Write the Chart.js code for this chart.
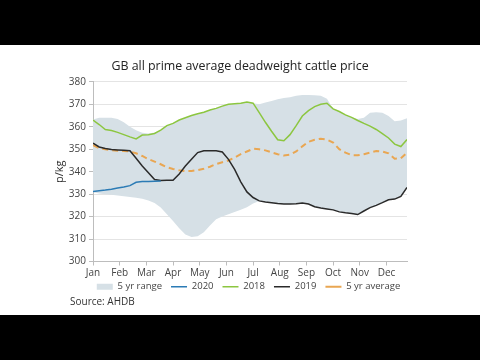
<!DOCTYPE html>
<html><head><meta charset="utf-8">
<script src="https://cdn.jsdelivr.net/npm/chart.js@4"></script>
<style>
html,body{margin:0;padding:0;background:#000;width:480px;height:360px;overflow:hidden}
#wrap{position:absolute;left:0;top:45px;width:480px;height:270px;background:#fff}
#c{display:block}
#src{position:absolute;left:70px;top:249px;font:10px "Open Sans",sans-serif;color:#333;line-height:14px}
</style></head><body>
<div id="wrap"><canvas id="c" width="480" height="270"></canvas><div id="src">Source: AHDB</div></div>
<script>
// Month tick labels
const monthLabels = ['Jan','Feb','Mar','Apr','May','Jun','Jul','Aug','Sep','Oct','Nov','Dec'];
// Weekly values (week 1 .. 52), p/kg
const rangeHigh = [363.3,364,364,364,363.5,362,360,358.5,357.3,357,357.5,358.5,360.5,361.5,363,364,365,365.8,366.5,367.5,368.2,369.2,370,370.3,370.5,371,370.5,370,370.8,371.5,372.3,372.8,373.2,373.8,374.2,374.2,374,373.8,372.5,368,366.8,365.3,364.2,363.5,364,366.2,366.5,366.2,364.8,362.5,362.8,363.8];
const rangeLow = [330.8,330.3,330,329.7,329.4,329.1,328.7,328.4,328,327.2,326,324.1,321,318,314.8,312,310.9,311.3,313,316,318.8,320,321,322,323,324.2,325.8,327,326.5,326.2,325.8,325.6,325.6,325.7,326,325.6,324.4,323.8,323.4,323,322.1,321.7,321.4,320.9,322.5,324,325,326.2,327.5,327.8,329,333];
const price2020 = [331.2,331.5,331.8,332.2,332.7,333.2,333.8,335.3,335.6,335.6,335.7,335.8];
const price2018 = [363,361,358.8,358.3,357.5,356.5,355.5,354.6,356.3,356.5,357,358.5,360.5,361.5,363,364,365,365.8,366.5,367.5,368.2,369.2,370,370.3,370.5,371,370.5,366.3,362,358,354.2,353.8,356.5,360.5,364.8,367.2,369,370,370.5,368,366.8,365.3,364.2,362.8,361.5,360.3,358.8,357,355,352.3,351.2,354.3];
const price2019 = [352.7,351,350.3,349.9,349.7,349.5,349.3,346,342.5,339.5,336.5,336.1,336.2,336.2,339,342.5,345.5,348.5,349.3,349.3,349.3,348.8,345.5,341,335.5,331,328.5,327,326.5,326.2,325.8,325.6,325.6,325.7,326,325.6,324.4,323.8,323.4,323,322.1,321.7,321.4,320.9,322.5,324,325,326.2,327.5,327.8,329,333];
const avg5yr = [351.8,350.5,350,349.6,349.3,349.2,349,348.2,347,345.6,344.5,343.3,342,341.2,340.6,340.3,340.3,340.7,341.3,342.2,343.4,344.2,345,346.3,347.8,349,350.2,350,349.5,348.6,347.8,347.2,347.6,349,351.3,353.3,354.2,354.7,354.3,353,350,348.5,347.4,347.3,347.8,348.5,349.2,349,348.2,345.8,346,348.5];
const yTicks = [300,310,320,330,340,350,360,370,380];

const pts = arr => arr.map((v,i)=>({x:i,y:v}));
const FONT = '"Open Sans", sans-serif';

const placePlugin = {
  id:'place',
  afterLayout(chart){
    const t = chart.titleBlock;
    if (t){ const d = 240 - (t.left+t.right)/2; t.left+=d; t.right+=d; }
    const l = chart.legend;
    if (l){
      const d = 248.5 - (l.left+l.right)/2; l.left+=d; l.right+=d;
      const h = l.bottom - l.top; l.top = 228; l.bottom = 228+h;
    }
  }
};

new Chart(document.getElementById('c'), {
  type:'line',
  data:{datasets:[
    {label:'5 yr range', data:pts(rangeHigh), fill:5, backgroundColor:'#d6e0e6', borderColor:'rgba(0,0,0,0)', borderWidth:0, pointRadius:0, pointStyle:'rect', order:10},
    {label:'2020', data:pts(price2020), borderColor:'#2b7bb5', backgroundColor:'#2b7bb5', borderWidth:1.5, pointRadius:0, pointStyle:'line', fill:false},
    {label:'2018', data:pts(price2018), borderColor:'#8cc640', backgroundColor:'#8cc640', borderWidth:1.5, pointRadius:0, pointStyle:'line', fill:false},
    {label:'2019', data:pts(price2019), borderColor:'#2a2a2a', backgroundColor:'#2a2a2a', borderWidth:1.5, pointRadius:0, pointStyle:'line', fill:false},
    {label:'5 yr average', data:pts(avg5yr), borderColor:'#e9a652', backgroundColor:'#e9a652', borderWidth:2, borderDash:[6,4], pointRadius:0, pointStyle:'line', fill:false},
    {label:'low', data:pts(rangeLow), borderWidth:0, borderColor:'rgba(0,0,0,0)', pointRadius:0, fill:false, order:11}
  ]},
  options:{
    responsive:false, animation:false, devicePixelRatio:1,
    layout:{padding:{left:0,right:73,top:0,bottom:5}},
    plugins:{
      tooltip:{enabled:false},
      title:{display:true, text:'GB all prime average deadweight cattle price', color:'#222', font:{family:FONT,size:12.4,weight:'normal'}, padding:{top:14,bottom:8}},
      legend:{position:'bottom', labels:{
        filter:(item)=>item.datasetIndex!==5,
        sort:(a,b)=>a.datasetIndex-b.datasetIndex,
        usePointStyle:true, pointStyleWidth:16, boxHeight:6, padding:9, color:'#444', font:{family:FONT,size:9.5}}}
    },
    scales:{
      x:{type:'linear', min:0, max:51,
        afterBuildTicks:(s)=>{ s.ticks = monthLabels.map((m,i)=>({value:i*52/12})); },
        ticks:{autoSkip:false, maxRotation:0, padding:2, color:'#444', font:{family:FONT,size:10}, callback:(v,i)=>monthLabels[i]},
        grid:{drawOnChartArea:false, drawTicks:true, tickLength:4, color:'#bdbdbd'},
        border:{color:'#bdbdbd'}
      },
      y:{min:300, max:380,
        afterBuildTicks:(s)=>{ s.ticks = yTicks.map(v=>({value:v})); },
        afterFit:(s)=>{ s.width = 93; },
        ticks:{color:'#444', padding:3, font:{family:FONT,size:10}},
        grid:{color:'#e4e4e4', tickLength:4, tickColor:'#bdbdbd'},
        border:{color:'#bdbdbd'},
        title:{display:true, text:'p/kg', color:'#333', font:{family:FONT,size:11}, padding:{top:53,bottom:0}}
      }
    }
  },
  plugins:[placePlugin]
});
</script>
</body></html>
